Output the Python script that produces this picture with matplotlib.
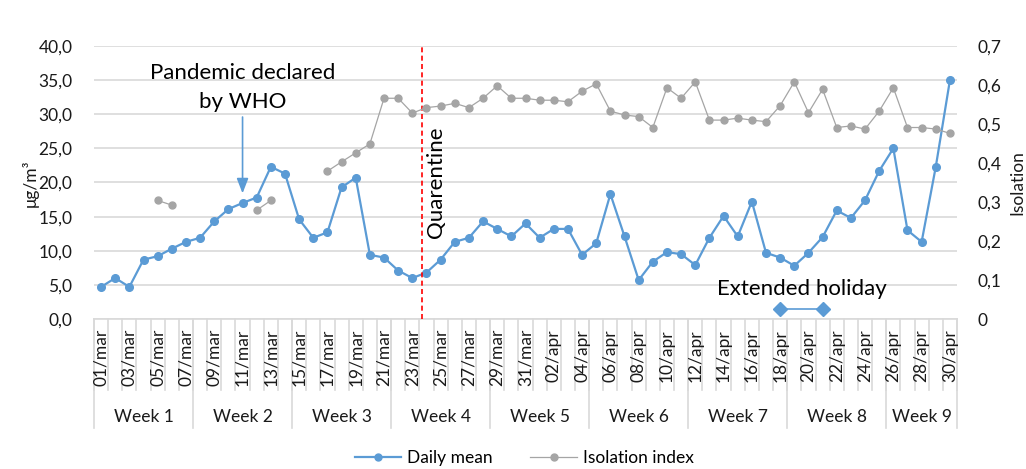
import numpy as np
import matplotlib
matplotlib.use("Agg")
import matplotlib.pyplot as plt
from matplotlib.lines import Line2D

plt.rcParams['font.family'] = ['Lato', 'DejaVu Sans']

days_mar = [f"{d:02d}/mar" for d in range(1, 32)]
days_apr = [f"{d:02d}/apr" for d in range(1, 31)]
dates = days_mar + days_apr

daily_mean = [4.7, 6.0, 4.7, 8.7, 9.2, 10.3, 11.3, 11.9, 14.3, 16.1,
              17.0, 17.8, 22.3, 21.3, 14.6, 11.9, 12.7, 19.3, 20.7, 9.4,
              9.0, 7.1, 6.0, 6.8, 8.7, 11.3, 11.9, 14.3, 13.2, 12.1,
              14.0, 11.9, 13.2, 13.2, 9.4, 11.1, 18.3, 12.1, 5.7, 8.4,
              9.8, 9.5, 7.9, 11.9, 15.1, 12.1, 17.2, 9.7, 9.0, 7.8,
              9.7, 12.0, 15.9, 14.8, 17.4, 21.7, 25.0, 13.0, 11.3, 22.3,
              35.0]

nan = np.nan
isolation = [nan, nan, nan, nan, 0.304, 0.292, nan, nan, nan, nan,
             nan, 0.279, 0.304, nan, nan, nan, 0.379, 0.403, 0.426, 0.449,
             0.566, 0.566, 0.528, 0.542, 0.546, 0.553, 0.542, 0.566, 0.598, 0.566,
             0.566, 0.561, 0.561, 0.557, 0.584, 0.603, 0.533, 0.523, 0.519, 0.491,
             0.593, 0.566, 0.608, 0.510, 0.510, 0.515, 0.510, 0.506, 0.547, 0.608,
             0.529, 0.589, 0.491, 0.495, 0.487, 0.533, 0.593, 0.491, 0.491, 0.487,
             0.476]

week_labels = ["Week 1", "Week 2", "Week 3", "Week 4", "Week 5",
               "Week 6", "Week 7", "Week 8", "Week 9"]
week_lengths = [7, 7, 7, 7, 7, 7, 7, 7, 5]

holiday_dates = ["18/apr", "21/apr"]
holiday_level = [0.025, 0.025]

left_ticks = [0, 5, 10, 15, 20, 25, 30, 35, 40]
right_ticks = [0, 0.1, 0.2, 0.3, 0.4, 0.5, 0.6, 0.7]

blue = "#5B9BD5"
gray = "#A5A5A5"
grid = "#D9D9D9"
txt = "#1a1a1a"

FS = 12.5
BIG = 16

fig = plt.figure(figsize=(10.26, 4.69), dpi=100)
ax = fig.add_axes([94/1026, 1-319/469, (957-94)/1026, (319-46)/469])
ax2 = ax.twinx()

x = np.arange(len(dates))
ax.plot(x, daily_mean, color=blue, lw=1.6, marker='o', ms=5.5, zorder=3)
ax2.plot(x, isolation, color=gray, lw=0.9, marker='o', ms=5, zorder=2)

hx = [dates.index(d) for d in holiday_dates]
ax2.plot(hx, holiday_level, color=blue, lw=1.2, marker='D', ms=7, clip_on=False, zorder=4)

ax.set_xlim(-0.5, len(dates) - 0.5)
ax.set_ylim(0, 40)
ax2.set_ylim(0, 0.7)
ax.set_yticks(left_ticks)
ax.set_yticklabels([f"{v:.1f}".replace('.', ',') for v in left_ticks])
ax2.set_yticks(right_ticks)
ax2.set_yticklabels(["0"] + [f"{v:.1f}".replace('.', ',') for v in right_ticks[1:]])
ax.tick_params(axis='y', which='both', left=False, right=False, labelleft=True,
               labelright=False, labelsize=FS, pad=12, labelcolor=txt)
ax2.tick_params(axis='y', which='both', left=False, right=False, labelleft=False,
                labelright=True, labelsize=FS, pad=11, labelcolor=txt)
ax.yaxis.grid(True, color=grid, lw=1.2)
ax.set_axisbelow(True)
for a in (ax, ax2):
    for s in a.spines.values():
        s.set_visible(False)
ax.spines['bottom'].set_visible(True)
ax.spines['bottom'].set_color(grid)
ax.spines['bottom'].set_linewidth(1.2)
ax.set_xticks([])

fig.text(30/1026, 1-183/469, "μg/m³", rotation=90, ha='center', va='center',
         fontsize=FS, color=txt)
fig.text(1017/1026, 1-183/469, "Isolation", rotation=90, ha='center', va='center',
         fontsize=FS, color=txt)

# category axis
trans = ax.get_xaxis_transform()
h_ax = (319-46)
def yfrac(py):
    return (319 - py) / h_ax

for k in range(len(dates) + 1):
    ax.plot([k - 0.5, k - 0.5], [0, yfrac(390)], transform=trans, color=grid,
            lw=1.2, clip_on=False)
for i in range(0, len(dates), 2):
    ax.text(i, yfrac(329), dates[i], transform=trans, rotation=90, ha='center',
            va='top', fontsize=FS, color=txt)
start = 0
for wl, wlab in zip(week_lengths, week_labels):
    ax.plot([start - 0.5, start - 0.5], [0, yfrac(428)], transform=trans, color=grid,
            lw=1.2, clip_on=False)
    ax.text(start + wl / 2 - 0.5, yfrac(417), wlab, transform=trans, ha='center',
            va='center', fontsize=FS, color=txt)
    start += wl
ax.plot([start - 0.5, start - 0.5], [0, yfrac(428)], transform=trans, color=grid,
        lw=1.2, clip_on=False)

# quarantine line
ax.axvline(22.7, color='#FF0000', ls=(0, (3, 2)), lw=1.2, zorder=5)
ax.text(23.7, 20.1, "Quarentine", rotation=90, ha='center', va='center', fontsize=BIG)

# pandemic annotation
ax.annotate("", xy=(10, 18.0), xytext=(10, 30.0),
            arrowprops=dict(arrowstyle='-|>,head_width=0.35,head_length=0.9',
                            color=blue, lw=1.2))
ax.text(10.0, 36.0, "Pandemic declared", ha='center', va='center', fontsize=BIG)
ax.text(10.0, 31.8, "by WHO", ha='center', va='center', fontsize=BIG)

ax.text(49.5, 4.4, "Extended holiday", ha='center', va='center', fontsize=BIG)

handles = [Line2D([], [], color=blue, lw=1.6, marker='o', ms=5),
           Line2D([], [], color=gray, lw=0.9, marker='o', ms=5)]
fig.legend(handles, ["Daily mean", "Isolation index"], loc='center',
           bbox_to_anchor=(524/1026, 1-458/469), ncol=2, frameon=False,
           fontsize=FS, handlelength=2.7, columnspacing=2.2, handletextpad=0.3)

fig.savefig("out.png", dpi=100)
